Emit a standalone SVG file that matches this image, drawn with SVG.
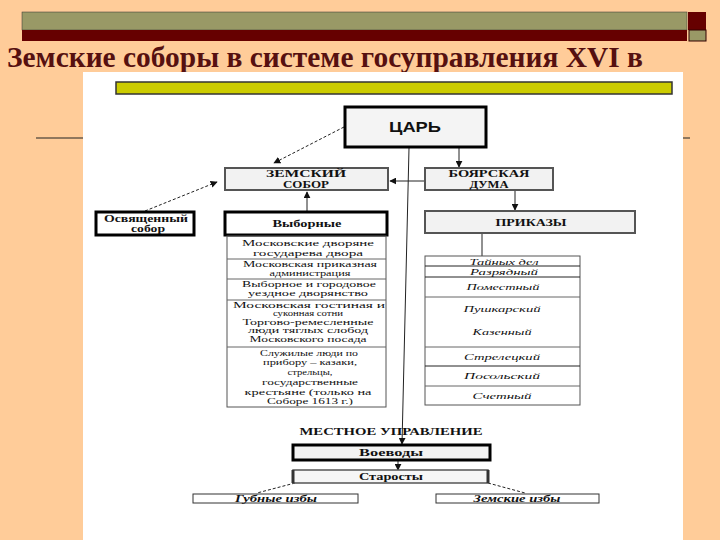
<svg xmlns="http://www.w3.org/2000/svg" width="720" height="540" viewBox="0 0 720 540">
<defs>
<style>
.sf{font-family:"Liberation Serif","Times New Roman",serif;fill:#111}
.b{font-weight:bold}
.i{font-style:italic}
.t{font-size:8.5px}
.s{font-size:7.8px}
.h{font-size:9.5px;font-weight:bold}
.gbox{fill:#f2f2f2;stroke:#555;stroke-width:2}
.kbox{fill:#fff;stroke:#000;stroke-width:3}
.thin{fill:none;stroke:#555;stroke-width:1}
.sep{stroke:#666;stroke-width:1}
.con{fill:none;stroke:#222;stroke-width:1}
.dash{stroke-dasharray:3 2}
</style>
<marker id="ah" viewBox="0 0 10 10" refX="9" refY="5" markerWidth="7" markerHeight="7" orient="auto" markerUnits="userSpaceOnUse">
<path d="M0,0 L10,5 L0,10 z" fill="#111"/>
</marker>
</defs>
<rect x="0" y="0" width="720" height="540" fill="#FFCC99"/>
<g id="header">
<rect x="22" y="12" width="665" height="18" fill="#999966" stroke="#333" stroke-width="0.5"/>
<rect x="22" y="30" width="665" height="11" fill="#660000"/>
<rect x="688" y="12" width="18" height="18" fill="#660000"/>
<rect x="689" y="30" width="17" height="11" fill="#999966" stroke="#330000" stroke-width="1"/>
<text x="7" y="67" font-family="Liberation Serif, Times New Roman, serif" font-weight="bold" font-size="30" fill="#561010" textLength="636" lengthAdjust="spacingAndGlyphs">Земские соборы  в системе госуправления XVI в</text>
<line x1="36" y1="138" x2="690" y2="138" stroke="#222" stroke-width="1.2"/>
</g>
<rect x="83" y="72" width="600" height="468" fill="#fff"/>
<rect x="116" y="82" width="556" height="12" fill="#CCCC00" stroke="#333" stroke-width="1.5"/>

<g id="connectors">
<line class="con dash" x1="344" y1="127" x2="274" y2="163" marker-end="url(#ah)"/>
<line class="con dash" x1="145" y1="211" x2="217" y2="182" marker-end="url(#ah)"/>
<line class="con" x1="307" y1="211" x2="307" y2="192" marker-end="url(#ah)"/>
<line class="con" x1="425" y1="181" x2="390" y2="181" marker-end="url(#ah)"/>
<line class="con" x1="459" y1="148" x2="459" y2="167" marker-end="url(#ah)"/>
<line class="con" x1="515" y1="191" x2="515" y2="210" marker-end="url(#ah)"/>
<line class="con" x1="482" y1="234" x2="482" y2="256"/>
<line class="con" x1="409" y1="148" x2="402" y2="444" marker-end="url(#ah)"/>
<line class="con" x1="398" y1="461" x2="398" y2="470" stroke-width="2.5" marker-end="url(#ah)"/>
<line class="con dash" x1="295" y1="483" x2="257" y2="493"/>
<line class="con dash" x1="488" y1="483" x2="525" y2="493"/>
</g>

<g id="tsar">
<rect x="345" y="107" width="141" height="40" fill="#f4f4f4" stroke="#000" stroke-width="3"/>
<text x="415" y="132" font-family="Liberation Sans, Arial, sans-serif" font-weight="bold" font-size="14" fill="#111" text-anchor="middle" textLength="52" lengthAdjust="spacingAndGlyphs">ЦАРЬ</text>
</g>
<g id="zemsky-sobor">
<rect class="gbox" x="225" y="168" width="163" height="22"/>
<text class="sf h" x="306" y="177" text-anchor="middle" textLength="80" lengthAdjust="spacingAndGlyphs">ЗЕМСКИЙ</text>
<text class="sf h" x="306" y="188" text-anchor="middle" textLength="46" lengthAdjust="spacingAndGlyphs">СОБОР</text>
</g>
<g id="boyar-duma">
<rect class="gbox" x="425" y="168" width="128" height="22"/>
<text class="sf h" x="489" y="177" text-anchor="middle" textLength="81" lengthAdjust="spacingAndGlyphs">БОЯРСКАЯ</text>
<text class="sf h" x="489" y="188" text-anchor="middle" textLength="39" lengthAdjust="spacingAndGlyphs">ДУМА</text>
</g>
<g id="osv-sobor">
<rect class="kbox" x="96" y="212" width="98" height="23"/>
<text class="sf h" x="146" y="222" text-anchor="middle" textLength="84" lengthAdjust="spacingAndGlyphs">Освященный</text>
<text class="sf h" x="148" y="232" text-anchor="middle" textLength="34" lengthAdjust="spacingAndGlyphs">собор</text>
</g>
<g id="vybornye">
<rect class="kbox" x="225" y="212" width="162" height="23"/>
<text class="sf h" x="307" y="227" text-anchor="middle" textLength="69" lengthAdjust="spacingAndGlyphs">Выборные</text>
</g>
<g id="prikazy">
<rect class="gbox" x="425" y="211" width="210" height="22"/>
<text class="sf h" x="531" y="226" text-anchor="middle" textLength="71" lengthAdjust="spacingAndGlyphs">ПРИКАЗЫ</text>
</g>

<g id="vybornye-list">
<rect class="thin" x="227" y="236" width="159" height="171"/>
<line class="sep" x1="227" y1="259" x2="386" y2="259"/>
<line class="sep" x1="227" y1="279" x2="386" y2="279"/>
<line class="sep" x1="227" y1="300" x2="386" y2="300"/>
<line class="sep" x1="227" y1="347" x2="386" y2="347"/>
<g class="sf t" text-anchor="middle">
<text x="308" y="246" textLength="132" lengthAdjust="spacingAndGlyphs">Московские дворяне</text>
<text x="308" y="256" textLength="110" lengthAdjust="spacingAndGlyphs">государева двора</text>
<text x="310" y="267" textLength="134" lengthAdjust="spacingAndGlyphs">Московская приказная</text>
<text x="310" y="276" textLength="81" lengthAdjust="spacingAndGlyphs">администрация</text>
<text x="309" y="287" textLength="134" lengthAdjust="spacingAndGlyphs">Выборное и городовое</text>
<text x="308" y="296" textLength="120" lengthAdjust="spacingAndGlyphs">уездное дворянство</text>
</g>
<g class="sf s" text-anchor="middle">
<text x="309" y="307.5" textLength="152" lengthAdjust="spacingAndGlyphs">Московская гостиная и</text>
<text x="308" y="316" textLength="70" lengthAdjust="spacingAndGlyphs">суконная сотни</text>
<text x="308" y="324.5" textLength="131" lengthAdjust="spacingAndGlyphs">Торгово-ремесленные</text>
<text x="308" y="333" textLength="120" lengthAdjust="spacingAndGlyphs">люди тяглых слобод</text>
<text x="308" y="341.5" textLength="117" lengthAdjust="spacingAndGlyphs">Московского посада</text>
</g>
<g class="sf t" text-anchor="middle">
<text x="309" y="356" textLength="98" lengthAdjust="spacingAndGlyphs">Служилые люди по</text>
<text x="310" y="365" textLength="94" lengthAdjust="spacingAndGlyphs">прибору – казаки,</text>
<text x="310" y="375" textLength="45" lengthAdjust="spacingAndGlyphs">стрельцы,</text>
<text x="310" y="385" textLength="96" lengthAdjust="spacingAndGlyphs">государственные</text>
<text x="308" y="395" textLength="127" lengthAdjust="spacingAndGlyphs">крестьяне (только на</text>
<text x="310" y="404" textLength="86" lengthAdjust="spacingAndGlyphs">Соборе 1613 г.)</text>
</g>
</g>

<g id="prikazy-list">
<rect class="thin" x="425" y="256" width="155" height="149"/>
<line x1="425" y1="266" x2="580" y2="266" stroke="#222" stroke-width="1"/>
<line x1="425" y1="277" x2="580" y2="277" stroke="#222" stroke-width="1"/>
<line class="sep" x1="425" y1="297" x2="580" y2="297" stroke="#999"/>
<line class="sep" x1="425" y1="347" x2="580" y2="347" stroke="#999"/>
<line x1="425" y1="366" x2="580" y2="366" stroke="#222" stroke-width="1"/>
<line class="sep" x1="425" y1="386" x2="580" y2="386" stroke="#999"/>
<g class="sf i t" text-anchor="middle">
<text x="504" y="265" textLength="69" lengthAdjust="spacingAndGlyphs">Тайных дел</text>
<text x="504" y="275" textLength="68" lengthAdjust="spacingAndGlyphs">Разрядный</text>
<text x="503" y="290" textLength="73" lengthAdjust="spacingAndGlyphs">Поместный</text>
<text x="502" y="312" textLength="77" lengthAdjust="spacingAndGlyphs">Пушкарский</text>
<text x="502" y="335" textLength="59" lengthAdjust="spacingAndGlyphs">Казенный</text>
<text x="502" y="360" textLength="76" lengthAdjust="spacingAndGlyphs">Стрелецкий</text>
<text x="502" y="379" textLength="76" lengthAdjust="spacingAndGlyphs">Посольский</text>
<text x="502" y="399" textLength="59" lengthAdjust="spacingAndGlyphs">Счетный</text>
</g>
</g>

<g id="local-title">
<text class="sf h" x="391" y="435" text-anchor="middle" textLength="183" lengthAdjust="spacingAndGlyphs">МЕСТНОЕ УПРАВЛЕНИЕ</text>
</g>
<g id="voevody">
<rect x="293" y="445" width="197" height="15" fill="#f2f2f2" stroke="#000" stroke-width="3"/>
<text class="sf b" font-size="10.5" x="391" y="456" text-anchor="middle" textLength="64" lengthAdjust="spacingAndGlyphs">Воеводы</text>
</g>
<g id="starosty">
<rect x="293" y="470" width="195" height="13" fill="#f6f6f6" stroke="#555" stroke-width="1.5"/>
<line x1="293" y1="470" x2="293" y2="483" stroke="#333" stroke-width="3"/>
<line x1="488" y1="470" x2="488" y2="483" stroke="#333" stroke-width="3"/>
<text class="sf b" font-size="10.5" x="391" y="480" text-anchor="middle" textLength="64" lengthAdjust="spacingAndGlyphs">Старосты</text>
</g>
<g id="gubnye">
<rect x="193" y="494" width="165" height="9" fill="#fff" stroke="#333" stroke-width="1"/>
<text class="sf b i" font-size="9.5" x="276" y="502" text-anchor="middle" textLength="82" lengthAdjust="spacingAndGlyphs">Губные избы</text>
</g>
<g id="zemskie">
<rect x="436" y="494" width="163" height="9" fill="#fff" stroke="#333" stroke-width="1"/>
<text class="sf b i" font-size="9.5" x="517" y="502" text-anchor="middle" textLength="87" lengthAdjust="spacingAndGlyphs">Земские избы</text>
</g>
</svg>
